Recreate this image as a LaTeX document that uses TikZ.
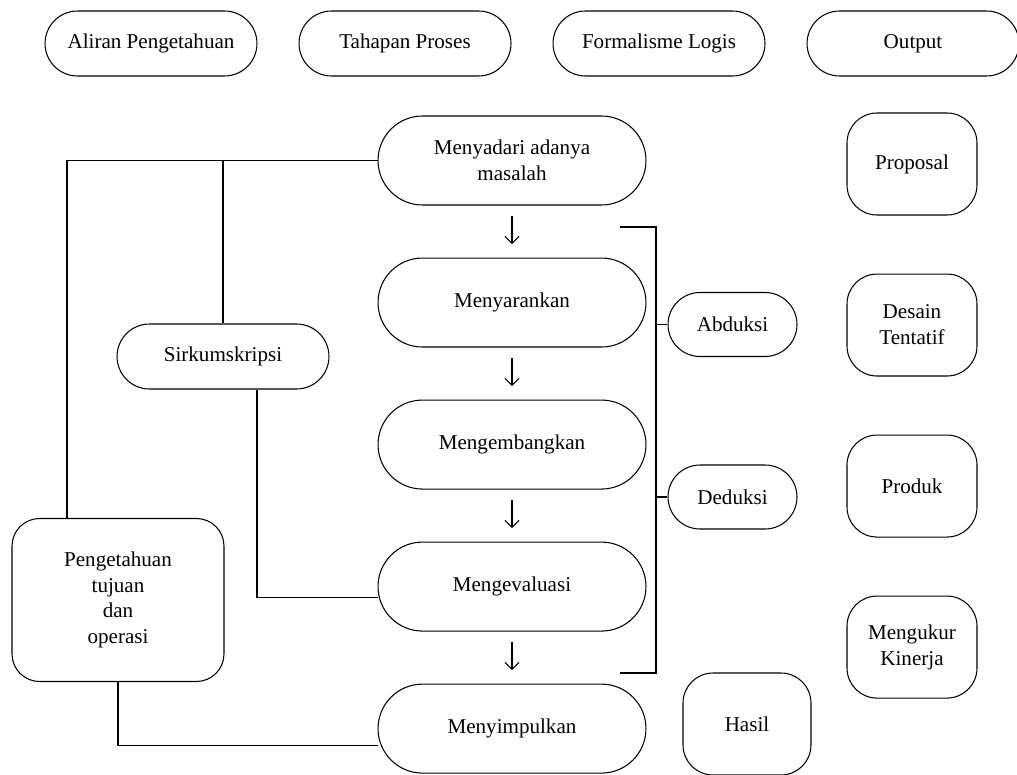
\documentclass[tikz,border=0pt]{standalone}
\usepackage{fontspec}
\setmainfont{Liberation Serif}
\usepackage{tikz}
\usetikzlibrary{arrows.meta,calc,positioning}
\tikzset{
    font=\fontsize{12pt}{14.7pt}\selectfont,
    pill/.style ={draw, align=center, minimum width = 4.24cm, minimum height = 1.3cm, rounded corners = 0.65cm},
    stage/.style ={draw, align=center, minimum width = 5.36cm, minimum height = 1.78cm, rounded corners = 0.89cm},
    logic/.style ={draw, align=center, minimum width = 2.58cm, minimum height = 1.28cm, rounded corners = 0.64cm},
    resultbox/.style ={draw, align=center, minimum width = 2.6cm, minimum height = 2.04cm, rounded corners = 0.6cm},
    flow/.style ={-{Straight Barb[length=4pt,width=8pt]}, shorten <=0.2cm, shorten >=0.27cm}
}

\begin{document}
\begin{tikzpicture}[x=0.02cm,y=-0.02cm,semithick]
	\useasboundingbox (0,0) rectangle (1017,774);
	% header
	\node[pill] (1) at (151,43.5) {Aliran Pengetahuan};
	\node[pill] (2) [right = 0.82cm of 1] {Tahapan Proses};
	\node[pill] (3) [right = 0.82cm of 2] {Formalisme Logis};
	\node[pill] (4) [right = 0.82cm of 3] {Output};

	% tahapan
	\node[stage] (5) at (512,160.5) {Menyadari adanya\\masalah};
	\node[stage] (6) [below = 1.04cm of 5] {Menyarankan};
	\node[stage] (7) [below = 1.04cm of 6] {Mengembangkan};
	\node[stage] (8) [below = 1.04cm of 7] {Mengevaluasi};
	\node[stage] (9) [below = 1.04cm of 8] {Menyimpulkan};

	% aliran pengetahuan
	\node[pill] (10) at (223,356.5) {Sirkumskripsi};
	\node[draw, align=center, minimum width = 4.24cm, minimum height = 3.26cm, rounded corners = 0.55cm] (11) at (118,600) {Pengetahuan\\tujuan\\dan\\operasi};

	% formalisme
	\node[logic] (12) at (732.5,324.5) {Abduksi};
	\node[logic] (13) at (732.5,497) {Deduksi};
	\coordinate (b1) at (620,227);
	\coordinate (b2) at (620,673);
	\coordinate (bx) at (656,0);

	% output
	\node[resultbox] (14) at (912,164) {Proposal};
	\node[resultbox] (15) [below = 1.16cm of 14] {Desain\\Tentatif};
	\node[resultbox] (16) [below = 1.16cm of 15] {Produk};
	\node[resultbox] (17) [below = 1.16cm of 16] {Mengukur\\Kinerja};
	\node[resultbox, minimum width = 2.56cm] (18) at (747,724) {Hasil};

	\path (5) edge[flow] (6);
	\path (6) edge[flow] (7);
	\path (7) edge[flow] (8);
	\path (8) edge[flow] (9);

	\draw (5.west) -| ($(11.north)+(-51,0)$);
	\draw (10.north) -- (10.north |- 5.west);
	\draw ($(10.south)+(34,0)$) |- ($(8.west)+(0,11)$);
	\draw (11.south) |- ($(9.west)+(0,17)$);

	\draw (b1) -- (b1 -| bx) -- (b2 -| bx) -- (b2);
	\draw (12.west) -- (12.west -| bx);
	\draw (13.west) -- (13.west -| bx);
\end{tikzpicture}
\end{document}
